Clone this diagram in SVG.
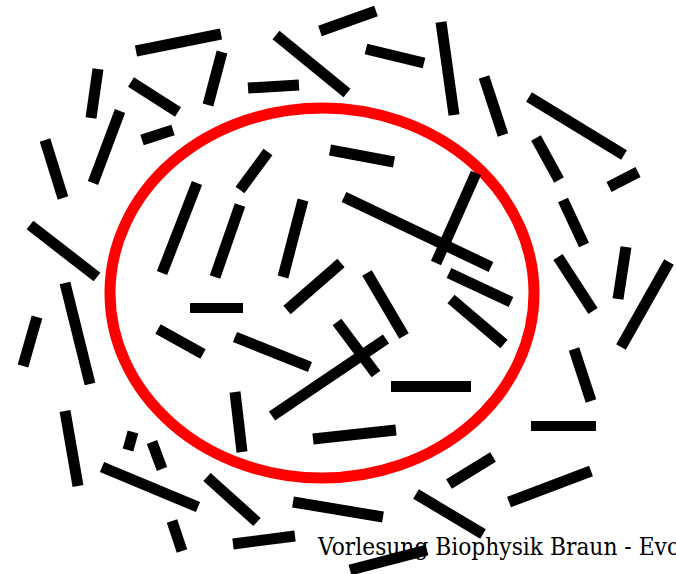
<svg xmlns="http://www.w3.org/2000/svg" width="676" height="574" viewBox="0 0 676 574">
<style>
.rod{stroke:#000;stroke-width:11;stroke-linecap:butt;fill:none}
.bar{fill:#000}
.cell{fill:none;stroke:#ff0000;stroke-width:11}
</style>
<rect width="676" height="574" fill="#fff"/>
<ellipse id="membrane" class="cell" cx="322" cy="293" rx="212" ry="185"/>
<g id="rods">
<line class="rod" x1="136" y1="51" x2="221" y2="34"/>
<line class="rod" x1="98" y1="69" x2="91" y2="118"/>
<line class="rod" x1="131" y1="82" x2="178" y2="112"/>
<line class="rod" x1="222" y1="52" x2="208" y2="105"/>
<line class="rod" x1="248" y1="88" x2="299" y2="85"/>
<line class="rod" x1="276" y1="35" x2="347" y2="93"/>
<line class="rod" x1="142" y1="140" x2="173" y2="130"/>
<line class="rod" x1="120" y1="111" x2="93" y2="183"/>
<line class="rod" x1="45" y1="140" x2="63" y2="198"/>
<line class="rod" x1="30" y1="225" x2="97" y2="277"/>
<line class="rod" x1="268" y1="152" x2="240" y2="190"/>
<line class="rod" x1="197" y1="183" x2="162" y2="273"/>
<line class="rod" x1="240" y1="205" x2="215" y2="277"/>
<line class="rod" x1="303" y1="200" x2="283" y2="277"/>
<line class="rod" x1="341" y1="263" x2="287" y2="310"/>
<line class="rod" x1="320" y1="31" x2="376" y2="11"/>
<line class="rod" x1="330" y1="150" x2="394" y2="162"/>
<line class="rod" x1="65" y1="283" x2="90" y2="384"/>
<line class="rod" x1="441" y1="22" x2="454" y2="115"/>
<line class="rod" x1="366" y1="49" x2="424" y2="63"/>
<line class="rod" x1="484" y1="77" x2="503" y2="135"/>
<line class="rod" x1="529" y1="97" x2="624" y2="155"/>
<line class="rod" x1="536" y1="138" x2="559" y2="180"/>
<line class="rod" x1="609" y1="187" x2="638" y2="172"/>
<line class="rod" x1="563" y1="200" x2="584" y2="245"/>
<line class="rod" x1="344" y1="197" x2="491" y2="267"/>
<line class="rod" x1="476" y1="173" x2="436" y2="263"/>
<line class="rod" x1="449" y1="273" x2="511" y2="302"/>
<line class="rod" x1="367" y1="273" x2="404" y2="336"/>
<line class="rod" x1="558" y1="257" x2="593" y2="311"/>
<line class="rod" x1="626" y1="247" x2="618" y2="299"/>
<line class="rod" x1="669" y1="262" x2="621" y2="347"/>
<rect class="bar" x="190" y="303" width="53" height="10"/>
<line class="rod" x1="37" y1="317" x2="23" y2="366"/>
<line class="rod" x1="158" y1="329" x2="203" y2="354"/>
<line class="rod" x1="235" y1="337" x2="310" y2="367"/>
<line class="rod" x1="337" y1="322" x2="376" y2="374"/>
<line class="rod" x1="272" y1="416" x2="386" y2="339"/>
<line class="rod" x1="235" y1="392" x2="242" y2="452"/>
<line class="rod" x1="65" y1="411" x2="78" y2="486"/>
<line class="rod" x1="133" y1="432" x2="128" y2="450"/>
<line class="rod" x1="152" y1="442" x2="162" y2="469"/>
<line class="rod" x1="102" y1="467" x2="198" y2="507"/>
<line class="rod" x1="207" y1="477" x2="257" y2="522"/>
<line class="rod" x1="172" y1="521" x2="182" y2="551"/>
<line class="rod" x1="233" y1="544" x2="295" y2="536"/>
<line class="rod" x1="293" y1="502" x2="383" y2="517"/>
<line class="rod" x1="313" y1="439" x2="396" y2="430"/>
<rect class="bar" x="391" y="381" width="80" height="11"/>
<rect class="bar" x="531" y="421" width="65" height="10"/>
<line class="rod" x1="451" y1="299" x2="504" y2="344"/>
<line class="rod" x1="574" y1="349" x2="591" y2="401"/>
<line class="rod" x1="449" y1="484" x2="493" y2="457"/>
<line class="rod" x1="509" y1="502" x2="591" y2="471"/>
<line class="rod" x1="416" y1="494" x2="483" y2="534"/>
<line class="rod" x1="350" y1="570" x2="427" y2="550"/>
</g>
<text x="318" y="555" font-family="DejaVu Serif, serif" font-size="24" textLength="362" lengthAdjust="spacingAndGlyphs" fill="#000">Vorlesung Biophysik Braun - Evo</text>
</svg>
